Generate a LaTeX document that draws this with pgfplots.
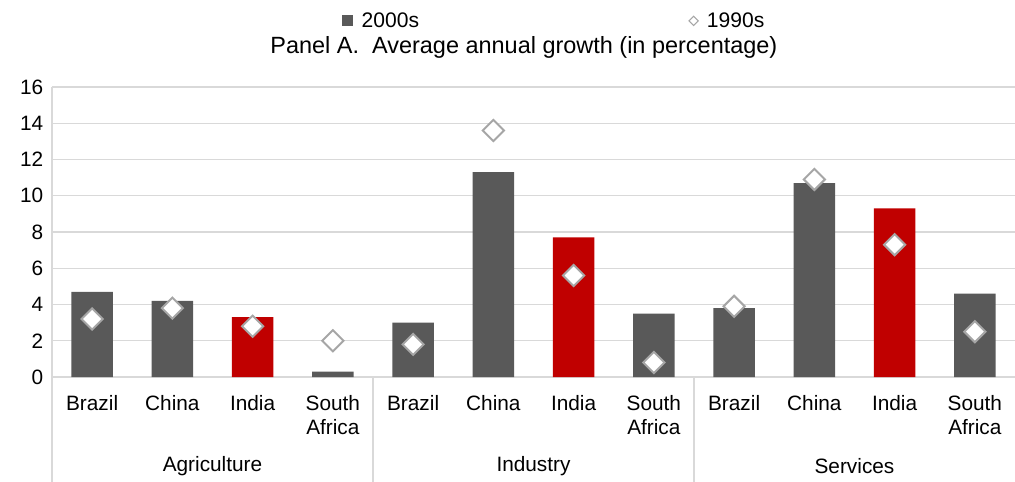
\documentclass[border=0pt]{standalone}
\usepackage{pgfplots}
\pgfplotsset{compat=1.18}
\usepackage{fontspec}
\setmainfont{Liberation Sans}
\definecolor{cgray}{HTML}{595959}
\definecolor{cred}{HTML}{C00000}
\definecolor{cgrid}{HTML}{D9D9D9}
\definecolor{cmark}{HTML}{A6A6A6}
\begin{document}
\begin{tikzpicture}
\begin{axis}[
 at={(0,0)}, anchor=south west,
 scale only axis, width=722.25pt, height=217.5pt,
 xmin=-0.5, xmax=11.5, ymin=0, ymax=16,
 ytick={0,2,...,16},
 xtick={0,...,11},
 xticklabels={Brazil,China,India,South\\Africa,Brazil,China,India,South\\Africa,Brazil,China,India,South\\Africa},
 xticklabel style={align=center, font=\fontsize{15.6}{18}\selectfont, anchor=north, yshift=-10pt},
 yticklabel style={font=\fontsize{15.6}{18}\selectfont, xshift=-3pt},
 /pgf/number format/assume math mode=true,
 major tick length=0pt,
 axis line style={draw=none},
 ymajorgrids, grid style={cgrid, line width=1pt},
 clip=false,
 legend columns=2,
 legend style={at={(rel axis cs:0.522,1.228)}, anchor=center, draw=none, fill=none,
   font=\fontsize{15.8}{18}\selectfont,
   /tikz/every even column/.append style={column sep=200pt}},
]
\addplot[ybar, bar width=0.52, bar shift=0pt, fill=cgray, draw=none,
  legend image code/.code={\fill[cgray] (0pt,-4.1pt) rectangle (8.2pt,4.1pt); \path[draw=none,fill=none] (0pt,0pt) -- (12.5pt,0pt);}]
  coordinates {(0,4.7) (1,4.2) (3,0.3) (4,3.0) (5,11.3) (7,3.5) (8,3.8) (9,10.7) (11,4.6)};
\addlegendentry{2000s}
\addplot[ybar, bar width=0.52, bar shift=0pt, fill=cred, draw=none, forget plot]
  coordinates {(2,3.3) (6,7.7) (10,9.3)};
\addplot[only marks, mark=square*, mark size=5.6pt,
  mark options={rotate=45, fill=white, draw=cmark, line width=1.5pt},
  legend image code/.code={\path[draw=cmark, fill=white, line width=0.8pt] (3.5pt,3.5pt) -- (7pt,0pt) -- (3.5pt,-3.5pt) -- (0pt,0pt) -- cycle; \path[draw=none,fill=none] (0pt,0pt) -- (11.5pt,0pt);}]
  coordinates {(0,3.2) (1,3.8) (2,2.8) (3,2.0) (4,1.8) (5,13.6) (6,5.6) (7,0.8) (8,3.9) (9,10.9) (10,7.3) (11,2.5)};
\addlegendentry{1990s}
\draw[cgrid, line width=1pt] (axis cs:-0.5,16) -- (axis cs:-0.5,-5.9);
\draw[cgrid, line width=1pt] (axis cs:3.5,0) -- (axis cs:3.5,-5.9);
\draw[cgrid, line width=1pt] (axis cs:7.5,0) -- (axis cs:7.5,-5.9);
\node[font=\fontsize{15.6}{18}\selectfont] at (axis cs:1.5,-4.9) {Agriculture};
\node[font=\fontsize{15.6}{18}\selectfont] at (axis cs:5.5,-4.9) {Industry};
\node[font=\fontsize{15.6}{18}\selectfont] at (axis cs:9.5,-4.9) {Services};
\node[font=\fontsize{17.6}{20}\selectfont] at (rel axis cs:0.49,1.138) {Panel A.\ \ Average annual growth (in percentage)};
\end{axis}
\pgfresetboundingbox
\path[use as bounding box] (-39pt,-78.75pt) rectangle (722.25pt,282.75pt);
\end{tikzpicture}
\end{document}
